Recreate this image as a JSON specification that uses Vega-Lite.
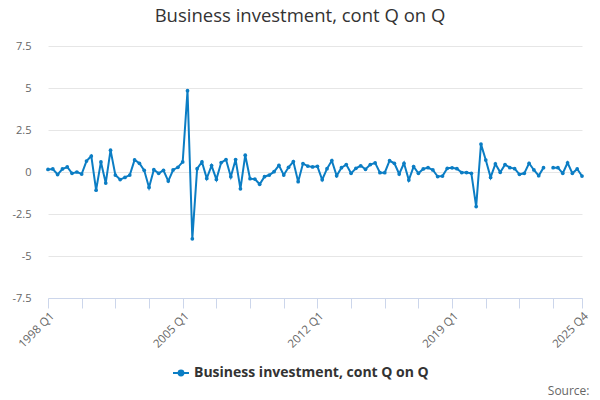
{
  "$schema": "https://vega.github.io/schema/vega-lite/v6.json",
  "width": 534,
  "height": 252,
  "autosize": "none",
  "padding": {"left": 48, "top": 46, "right": 18, "bottom": 102},
  "background": "white",
  "config": {"view": {"stroke": null}, "font": "Open Sans"},
  "title": {"text": "Business investment, cont Q on Q", "anchor": "middle", "fontSize": 18.5, "fontWeight": "normal", "color": "#333333", "font": "Open Sans", "offset": 15, "dx": -15},
  "data": {"values": [
    {"q":"1998 Q1","v":0.15},{"q":"1998 Q2","v":0.18},{"q":"1998 Q3","v":-0.15},{"q":"1998 Q4","v":0.18},
    {"q":"1999 Q1","v":0.3},{"q":"1999 Q2","v":-0.08},{"q":"1999 Q3","v":0.0},{"q":"1999 Q4","v":-0.12},
    {"q":"2000 Q1","v":0.65},{"q":"2000 Q2","v":0.95},{"q":"2000 Q3","v":-1.08},{"q":"2000 Q4","v":0.6},
    {"q":"2001 Q1","v":-0.66},{"q":"2001 Q2","v":1.3},{"q":"2001 Q3","v":-0.18},{"q":"2001 Q4","v":-0.45},
    {"q":"2002 Q1","v":-0.32},{"q":"2002 Q2","v":-0.18},{"q":"2002 Q3","v":0.72},{"q":"2002 Q4","v":0.52},
    {"q":"2003 Q1","v":0.1},{"q":"2003 Q2","v":-0.92},{"q":"2003 Q3","v":0.14},{"q":"2003 Q4","v":-0.08},
    {"q":"2004 Q1","v":0.1},{"q":"2004 Q2","v":-0.54},{"q":"2004 Q3","v":0.12},{"q":"2004 Q4","v":0.28},
    {"q":"2005 Q1","v":0.6},{"q":"2005 Q2","v":4.84},{"q":"2005 Q3","v":-3.98},{"q":"2005 Q4","v":0.2},
    {"q":"2006 Q1","v":0.6},{"q":"2006 Q2","v":-0.38},{"q":"2006 Q3","v":0.38},{"q":"2006 Q4","v":-0.44},
    {"q":"2007 Q1","v":0.56},{"q":"2007 Q2","v":0.74},{"q":"2007 Q3","v":-0.28},{"q":"2007 Q4","v":0.74},
    {"q":"2008 Q1","v":-1.0},{"q":"2008 Q2","v":1.0},{"q":"2008 Q3","v":-0.4},{"q":"2008 Q4","v":-0.42},
    {"q":"2009 Q1","v":-0.73},{"q":"2009 Q2","v":-0.28},{"q":"2009 Q3","v":-0.18},{"q":"2009 Q4","v":0.02},
    {"q":"2010 Q1","v":0.4},{"q":"2010 Q2","v":-0.18},{"q":"2010 Q3","v":0.28},{"q":"2010 Q4","v":0.62},
    {"q":"2011 Q1","v":-0.58},{"q":"2011 Q2","v":0.5},{"q":"2011 Q3","v":0.35},{"q":"2011 Q4","v":0.3},
    {"q":"2012 Q1","v":0.34},{"q":"2012 Q2","v":-0.46},{"q":"2012 Q3","v":0.2},{"q":"2012 Q4","v":0.68},
    {"q":"2013 Q1","v":-0.23},{"q":"2013 Q2","v":0.26},{"q":"2013 Q3","v":0.44},{"q":"2013 Q4","v":-0.08},
    {"q":"2014 Q1","v":0.22},{"q":"2014 Q2","v":0.37},{"q":"2014 Q3","v":0.16},{"q":"2014 Q4","v":0.44},
    {"q":"2015 Q1","v":0.54},{"q":"2015 Q2","v":-0.04},{"q":"2015 Q3","v":-0.04},{"q":"2015 Q4","v":0.67},
    {"q":"2016 Q1","v":0.52},{"q":"2016 Q2","v":-0.12},{"q":"2016 Q3","v":0.52},{"q":"2016 Q4","v":-0.48},
    {"q":"2017 Q1","v":0.32},{"q":"2017 Q2","v":-0.08},{"q":"2017 Q3","v":0.18},{"q":"2017 Q4","v":0.26},
    {"q":"2018 Q1","v":0.12},{"q":"2018 Q2","v":-0.27},{"q":"2018 Q3","v":-0.24},{"q":"2018 Q4","v":0.22},
    {"q":"2019 Q1","v":0.25},{"q":"2019 Q2","v":0.2},{"q":"2019 Q3","v":-0.03},{"q":"2019 Q4","v":-0.03},
    {"q":"2020 Q1","v":-0.08},{"q":"2020 Q2","v":-2.06},{"q":"2020 Q3","v":1.66},{"q":"2020 Q4","v":0.71},
    {"q":"2021 Q1","v":-0.32},{"q":"2021 Q2","v":0.48},{"q":"2021 Q3","v":-0.02},{"q":"2021 Q4","v":0.44},
    {"q":"2022 Q1","v":0.26},{"q":"2022 Q2","v":0.2},{"q":"2022 Q3","v":-0.14},{"q":"2022 Q4","v":-0.08},
    {"q":"2023 Q1","v":0.52},{"q":"2023 Q2","v":0.12},{"q":"2023 Q3","v":-0.22},{"q":"2023 Q4","v":0.26},
    {"q":"2024 Q1","v":null},{"q":"2024 Q2","v":0.26},{"q":"2024 Q3","v":0.26},{"q":"2024 Q4","v":-0.08},
    {"q":"2025 Q1","v":0.55},{"q":"2025 Q2","v":-0.08},{"q":"2025 Q3","v":0.18},{"q":"2025 Q4","v":-0.24}
  ]},
  "encoding": {
    "x": {"field": "q", "type": "ordinal", "sort": null,
      "scale": {"type": "point", "padding": 0},
      "axis": {
        "values": ["1998 Q1","1999 Q4","2001 Q3","2003 Q2","2005 Q1","2006 Q4","2008 Q3","2010 Q2","2012 Q1","2013 Q4","2015 Q3","2017 Q2","2019 Q1","2020 Q4","2022 Q3","2024 Q2","2025 Q4"],
        "labelExpr": "indexof(['1998 Q1','2005 Q1','2012 Q1','2019 Q1','2025 Q4'], datum.value) >= 0 ? datum.value : ''",
        "labelAngle": -45, "labelAlign": "right", "labelBaseline": "top", "labelColor": "#666666", "labelFontSize": 11.5, "labelFont": "Open Sans", "labelPadding": 2,
        "tickSize": 10, "tickColor": "#ccd6eb", "domainColor": "#ccd6eb", "grid": false,
        "title": "Source:", "titleAnchor": "end", "titleAlign": "right", "titleBaseline": "alphabetic", "titleX": 541, "titleY": 96, "titleColor": "#666666", "titleFontSize": 12, "titleFontWeight": "normal", "titleFont": "Open Sans", "labelOverlap": false
      }},
    "y": {"field": "v", "type": "quantitative",
      "scale": {"domain": [-7.5, 7.5], "nice": false, "zero": false},
      "axis": {"values": [-7.5, -5, -2.5, 0, 2.5, 5, 7.5], "labelExpr": "datum.value + ''", "domain": false, "ticks": false, "grid": true, "gridColor": "#e6e6e6", "labelColor": "#666666", "labelFontSize": 11, "labelFont": "Open Sans", "labelPadding": 17, "title": null}},
    "color": {"datum": "Business investment, cont Q on Q", "type": "nominal",
      "scale": {"range": ["#0b7dc4"]},
      "legend": {"title": null, "orient": "none", "legendX": 124, "legendY": 318, "direction": "horizontal",
        "symbolType": "M-1,0L1,0M-0.3,0A0.3,0.3 0 1,0 0.3,0A0.3,0.3 0 1,0 -0.3,0Z", "symbolSize": 256, "symbolStrokeWidth": 2, "symbolFillColor": "#0b7dc4", "symbolStrokeColor": "#0b7dc4",
        "labelFontSize": 14, "labelFontWeight": "bold", "labelColor": "#333333", "labelFont": "Open Sans", "labelLimit": 400, "labelOffset": 4}}
  },
  "layer": [
    {"mark": {"type": "line", "strokeWidth": 2, "invalid": "break-paths-show-domains"}},
    {"mark": {"type": "point", "filled": true, "size": 14, "opacity": 1}}
  ]
}
